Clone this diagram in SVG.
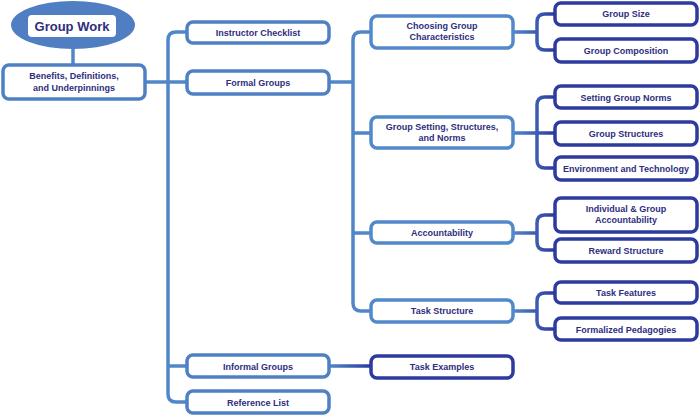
<svg xmlns="http://www.w3.org/2000/svg" width="700" height="417" viewBox="0 0 700 417">
<defs>
<linearGradient id="g3" gradientUnits="userSpaceOnUse" x1="513" y1="0" x2="555" y2="0">
<stop offset="0" stop-color="#5087c9"/><stop offset="1" stop-color="#2d3a9e"/>
</linearGradient>
<linearGradient id="g4" gradientUnits="userSpaceOnUse" x1="329" y1="0" x2="371" y2="0">
<stop offset="0" stop-color="#5087c9"/><stop offset="1" stop-color="#2d3a9e"/>
</linearGradient>
</defs>
<style>
.b1{fill:#fff;stroke:#4f80c4;stroke-width:3.5}
.b2{fill:#fff;stroke:#5289ca;stroke-width:3.5}
.b3{fill:#fff;stroke:#2d3a9e;stroke-width:3.5}
.c{fill:none;stroke:#5087c9;stroke-width:3.5}
.c3{fill:none;stroke:url(#g3);stroke-width:3.5}
.c4{fill:none;stroke:url(#g4);stroke-width:3.5}
text{font-family:"Liberation Sans",Arial,sans-serif;font-weight:bold;font-size:9px;fill:#2e2e7e;text-anchor:middle}
.t{font-size:13px}
</style>
<rect width="700" height="417" fill="#fff"/>
<g id="connectors">
<path class="c" d="M73 46V66"/>
<path class="c" d="M145 82H187"/>
<path class="c" d="M187 32H176Q168 32 168 40V394Q168 402 176 402H187"/>
<path class="c" d="M168 366H187"/>
<path class="c" d="M329 82H353"/>
<path class="c" d="M371 32H361Q353 32 353 40V303Q353 311 361 311H371"/>
<path class="c" d="M353 133H371M353 233H371"/>
<path class="c4" d="M329 366H371"/>
<path class="c3" d="M513 32H537M555 14H545Q537 14 537 22V42Q537 50 545 50H555"/>
<path class="c3" d="M513 133H555M555 97H545Q537 97 537 105V160Q537 168 545 168H555"/>
<path class="c3" d="M513 233H537M555 215H545Q537 215 537 223V242Q537 250 545 250H555"/>
<path class="c3" d="M513 311H537M555 293H545Q537 293 537 301V321Q537 329 545 329H555"/>
</g>
<g id="group-work">
<ellipse cx="73" cy="25" rx="62" ry="24" fill="#4f7fc2"/>
<rect x="28" y="15" width="88" height="22" rx="4" fill="#fff"/>
<text class="t" x="72" y="31">Group Work</text>
</g>
<g id="benefits">
<rect class="b1" x="3" y="65" width="142" height="34" rx="6"/>
<text x="74" y="79">Benefits, Definitions,</text>
<text x="74" y="91">and Underpinnings</text>
</g>
<g id="instructor-checklist"><rect class="b1" x="187" y="22" width="142" height="21" rx="6"/><text x="258" y="35.5">Instructor Checklist</text></g>
<g id="formal-groups"><rect class="b1" x="187" y="71" width="142" height="23" rx="6"/><text x="258" y="86">Formal Groups</text></g>
<g id="informal-groups"><rect class="b1" x="187" y="355" width="142" height="22" rx="6"/><text x="258" y="369.5">Informal Groups</text></g>
<g id="reference-list"><rect class="b1" x="187" y="391" width="142" height="22" rx="6"/><text x="258" y="405.5">Reference List</text></g>
<g id="choosing"><rect class="b2" x="371" y="16" width="142" height="32" rx="6"/><text x="442" y="29">Choosing Group</text><text x="442" y="40">Characteristics</text></g>
<g id="group-setting"><rect class="b2" x="371" y="117" width="142" height="31" rx="6"/><text x="442" y="130">Group Setting, Structures,</text><text x="442" y="141">and Norms</text></g>
<g id="accountability"><rect class="b2" x="371" y="222" width="142" height="21" rx="6"/><text x="442" y="236">Accountability</text></g>
<g id="task-structure"><rect class="b2" x="371" y="300" width="142" height="22" rx="6"/><text x="442" y="314">Task Structure</text></g>
<g id="task-examples"><rect class="b3" x="371" y="356" width="142" height="22" rx="6"/><text x="442" y="370">Task Examples</text></g>
<g id="group-size"><rect class="b3" x="555" y="3" width="142" height="22" rx="6"/><text x="626" y="17">Group Size</text></g>
<g id="group-composition"><rect class="b3" x="555" y="39" width="142" height="23" rx="6"/><text x="626" y="54">Group Composition</text></g>
<g id="setting-norms"><rect class="b3" x="555" y="86" width="142" height="22" rx="6"/><text x="626" y="100.5">Setting Group Norms</text></g>
<g id="group-structures"><rect class="b3" x="555" y="122" width="142" height="23" rx="6"/><text x="626" y="136.5">Group Structures</text></g>
<g id="environment"><rect class="b3" x="555" y="157" width="142" height="23" rx="6"/><text x="626" y="172">Environment and Technology</text></g>
<g id="individual-accountability"><rect class="b3" x="555" y="198" width="142" height="34" rx="6"/><text x="626" y="211.5">Individual &amp; Group</text><text x="626" y="222.5">Accountability</text></g>
<g id="reward-structure"><rect class="b3" x="555" y="239" width="142" height="23" rx="6"/><text x="626" y="253.5">Reward Structure</text></g>
<g id="task-features"><rect class="b3" x="555" y="282" width="142" height="21" rx="6"/><text x="626" y="296">Task Features</text></g>
<g id="formalized-pedagogies"><rect class="b3" x="555" y="318" width="142" height="22" rx="6"/><text x="626" y="332.5">Formalized Pedagogies</text></g>
</svg>
